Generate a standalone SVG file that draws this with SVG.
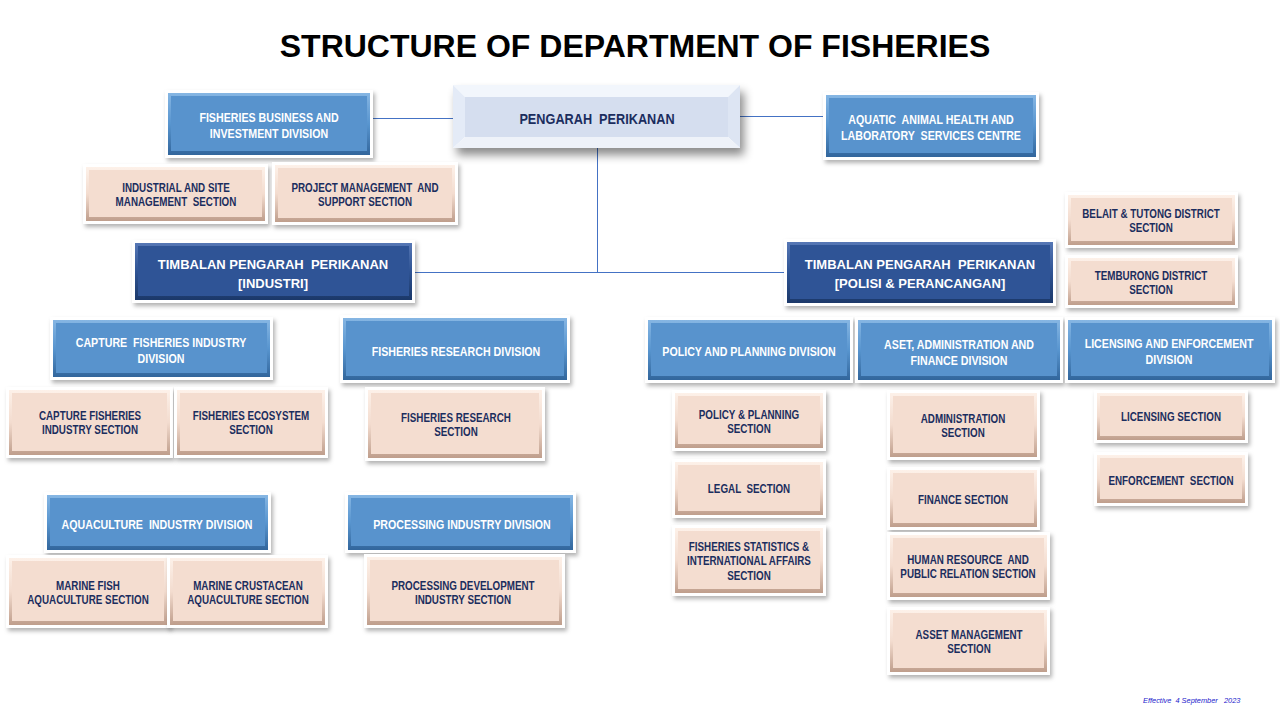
<svg xmlns="http://www.w3.org/2000/svg" width="1280" height="720" viewBox="0 0 1280 720">
<defs>
<filter id="sh" x="-10%" y="-20%" width="125%" height="150%">
<feDropShadow dx="2" dy="3" stdDeviation="2" flood-color="#000" flood-opacity="0.3"/>
</filter>
<filter id="shBig" x="-10%" y="-30%" width="125%" height="170%">
<feDropShadow dx="4" dy="7" stdDeviation="5" flood-color="#000" flood-opacity="0.45"/>
</filter>
<linearGradient id="gBlue" x1="0" y1="0" x2="0" y2="1">
<stop offset="0" stop-color="#86b6e3"/><stop offset="0.5" stop-color="#5895cf"/><stop offset="1" stop-color="#32669c"/>
</linearGradient>
<linearGradient id="gDark" x1="0" y1="0" x2="0" y2="1">
<stop offset="0" stop-color="#5677b5"/><stop offset="0.5" stop-color="#2e5393"/><stop offset="1" stop-color="#1b3869"/>
</linearGradient>
<linearGradient id="gPeach" x1="0" y1="0" x2="0" y2="1">
<stop offset="0" stop-color="#fdf1e9"/><stop offset="0.5" stop-color="#f3dccf"/><stop offset="1" stop-color="#bf9e8c"/>
</linearGradient>
</defs>
<style>
.fr{fill:#fff;filter:url(#sh)}
.eb{fill:url(#gBlue)}.fb{fill:#5893cd}
.ed{fill:url(#gDark)}.fd{fill:#2f5496}
.ep{fill:url(#gPeach)}.fp{fill:#f4ddd0}
text{text-anchor:middle;font-weight:bold;white-space:pre}
.tw,.tp,.tn{font-family:"Liberation Sans","Arial",sans-serif;transform-box:fill-box;transform-origin:center;transform:scaleX(0.82)}
.tw{fill:#fff;font-size:13px}
.tp{fill:#1b2d5e;font-size:12px}
.tn{fill:#1b2d5e;font-size:15.5px}
.td{fill:#fff;font-family:"Liberation Sans","Arial",sans-serif;font-size:13px}
.conn line{stroke:#4472c4;stroke-width:1}
</style>
<rect width="1280" height="720" fill="#fff"/>
<text x="635" y="57" style="font-family:'Liberation Sans',Arial,sans-serif;font-size:32px;fill:#000">STRUCTURE OF DEPARTMENT OF FISHERIES</text>

<g id="connectors" class="conn">
<line x1="373" y1="118.5" x2="455" y2="118.5"/>
<line x1="739" y1="116.5" x2="823" y2="116.5"/>
<line x1="597.5" y1="147" x2="597.5" y2="272"/>
<line x1="415" y1="272.5" x2="787" y2="272.5"/>
</g>

<g id="pengarah">
<rect x="453" y="85" width="287" height="63" fill="#fff" filter="url(#shBig)"/>
<polygon points="453,85 740,85 728,97 465,97" fill="#f2f6fc"/>
<polygon points="453,85 465,97 465,137 453,148" fill="#e4ebf7"/>
<polygon points="740,85 740,148 728,137 728,97" fill="#dde5f3"/>
<polygon points="453,148 465,137 728,137 740,148" fill="#eef2f9"/>
<rect x="465" y="97" width="263" height="40" fill="#d5deef"/>
<text class="tn" x="597" y="124">PENGARAH  PERIKANAN</text>
</g>

<g id="fbi"><rect class="fr" x="165" y="90" width="208" height="68"/><rect class="eb" x="168" y="93" width="202" height="62"/><rect class="fb" x="171" y="96" width="196" height="55"/>
<text class="tw" x="269" y="122">FISHERIES BUSINESS AND</text><text class="tw" x="269" y="138">INVESTMENT DIVISION</text></g>

<g id="aquatic"><rect class="fr" x="823" y="92" width="216" height="68"/><rect class="eb" x="826" y="95" width="210" height="62"/><rect class="fb" x="829" y="98" width="204" height="55"/>
<text class="tw" x="931" y="124">AQUATIC  ANIMAL HEALTH AND</text><text class="tw" x="931" y="140">LABORATORY  SERVICES CENTRE</text></g>

<g id="industrial"><rect class="fr" x="83" y="164" width="185" height="60"/><rect class="ep" x="86" y="167" width="179" height="54"/><rect class="fp" x="89" y="170" width="173" height="47"/>
<text class="tp" x="176" y="192">INDUSTRIAL AND SITE</text><text class="tp" x="176" y="206">MANAGEMENT  SECTION</text></g>

<g id="project"><rect class="fr" x="272" y="162" width="186" height="63"/><rect class="ep" x="275" y="165" width="180" height="57"/><rect class="fp" x="278" y="168" width="174" height="50"/>
<text class="tp" x="365" y="192">PROJECT MANAGEMENT  AND</text><text class="tp" x="365" y="206">SUPPORT SECTION</text></g>

<g id="timbalan-industri"><rect class="fr" x="132" y="240" width="283" height="63"/><rect class="ed" x="135" y="243" width="277" height="57"/><rect class="fd" x="138" y="246" width="271" height="50"/>
<text class="td" x="273" y="269">TIMBALAN PENGARAH  PERIKANAN</text><text class="td" x="273" y="288">[INDUSTRI]</text></g>

<g id="timbalan-polisi"><rect class="fr" x="784" y="239" width="272" height="67"/><rect class="ed" x="787" y="242" width="266" height="61"/><rect class="fd" x="790" y="245" width="260" height="54"/>
<text class="td" x="920" y="269">TIMBALAN PENGARAH  PERIKANAN</text><text class="td" x="920" y="288">[POLISI &amp; PERANCANGAN]</text></g>

<g id="belait"><rect class="fr" x="1065" y="192" width="173" height="56"/><rect class="ep" x="1068" y="195" width="167" height="50"/><rect class="fp" x="1071" y="198" width="161" height="43"/>
<text class="tp" x="1151" y="218">BELAIT &amp; TUTONG DISTRICT</text><text class="tp" x="1151" y="232">SECTION</text></g>

<g id="temburong"><rect class="fr" x="1065" y="255" width="173" height="53"/><rect class="ep" x="1068" y="258" width="167" height="47"/><rect class="fp" x="1071" y="261" width="161" height="40"/>
<text class="tp" x="1151" y="280">TEMBURONG DISTRICT</text><text class="tp" x="1151" y="294">SECTION</text></g>

<g id="capture-div"><rect class="fr" x="50" y="317" width="223" height="63"/><rect class="eb" x="53" y="320" width="217" height="57"/><rect class="fb" x="56" y="323" width="211" height="50"/>
<text class="tw" x="161" y="347">CAPTURE  FISHERIES INDUSTRY</text><text class="tw" x="161" y="363">DIVISION</text></g>

<g id="research-div"><rect class="fr" x="340" y="315" width="230" height="68"/><rect class="eb" x="343" y="318" width="224" height="62"/><rect class="fb" x="346" y="321" width="218" height="55"/>
<text class="tw" x="456" y="356">FISHERIES RESEARCH DIVISION</text></g>

<g id="policy-div"><rect class="fr" x="645" y="317" width="208" height="66"/><rect class="eb" x="648" y="320" width="202" height="60"/><rect class="fb" x="651" y="323" width="196" height="53"/>
<text class="tw" x="749" y="356">POLICY AND PLANNING DIVISION</text></g>

<g id="aset-div"><rect class="fr" x="855" y="317" width="208" height="66"/><rect class="eb" x="858" y="320" width="202" height="60"/><rect class="fb" x="861" y="323" width="196" height="53"/>
<text class="tw" x="959" y="349">ASET, ADMINISTRATION AND</text><text class="tw" x="959" y="365">FINANCE DIVISION</text></g>

<g id="licensing-div"><rect class="fr" x="1065" y="317" width="210" height="66"/><rect class="eb" x="1068" y="320" width="204" height="60"/><rect class="fb" x="1071" y="323" width="198" height="53"/>
<text class="tw" x="1169" y="348">LICENSING AND ENFORCEMENT</text><text class="tw" x="1169" y="364">DIVISION</text></g>

<g id="capture-sec"><rect class="fr" x="6" y="387" width="167" height="71"/><rect class="ep" x="9" y="390" width="161" height="65"/><rect class="fp" x="12" y="393" width="155" height="58"/>
<text class="tp" x="90" y="420">CAPTURE FISHERIES</text><text class="tp" x="90" y="434">INDUSTRY SECTION</text></g>

<g id="ecosystem"><rect class="fr" x="174" y="387" width="154" height="71"/><rect class="ep" x="177" y="390" width="148" height="65"/><rect class="fp" x="180" y="393" width="142" height="58"/>
<text class="tp" x="251" y="420">FISHERIES ECOSYSTEM</text><text class="tp" x="251" y="434">SECTION</text></g>

<g id="research-sec"><rect class="fr" x="365" y="387" width="180" height="74"/><rect class="ep" x="368" y="390" width="174" height="68"/><rect class="fp" x="371" y="393" width="168" height="61"/>
<text class="tp" x="456" y="422">FISHERIES RESEARCH</text><text class="tp" x="456" y="436">SECTION</text></g>

<g id="pp-sec"><rect class="fr" x="672" y="390" width="154" height="61"/><rect class="ep" x="675" y="393" width="148" height="55"/><rect class="fp" x="678" y="396" width="142" height="48"/>
<text class="tp" x="749" y="419">POLICY &amp; PLANNING</text><text class="tp" x="749" y="433">SECTION</text></g>

<g id="legal"><rect class="fr" x="672" y="459" width="154" height="59"/><rect class="ep" x="675" y="462" width="148" height="53"/><rect class="fp" x="678" y="465" width="142" height="46"/>
<text class="tp" x="749" y="493">LEGAL  SECTION</text></g>

<g id="stats"><rect class="fr" x="672" y="525" width="154" height="71"/><rect class="ep" x="675" y="528" width="148" height="65"/><rect class="fp" x="678" y="531" width="142" height="58"/>
<text class="tp" x="749" y="551">FISHERIES STATISTICS &amp;</text><text class="tp" x="749" y="565">INTERNATIONAL AFFAIRS</text><text class="tp" x="749" y="580">SECTION</text></g>

<g id="admin"><rect class="fr" x="887" y="390" width="153" height="70"/><rect class="ep" x="890" y="393" width="147" height="64"/><rect class="fp" x="893" y="396" width="141" height="57"/>
<text class="tp" x="963" y="423">ADMINISTRATION</text><text class="tp" x="963" y="437">SECTION</text></g>

<g id="finance"><rect class="fr" x="887" y="467" width="153" height="63"/><rect class="ep" x="890" y="470" width="147" height="57"/><rect class="fp" x="893" y="473" width="141" height="50"/>
<text class="tp" x="963" y="504">FINANCE SECTION</text></g>

<g id="hr"><rect class="fr" x="887" y="532" width="163" height="68"/><rect class="ep" x="890" y="535" width="157" height="62"/><rect class="fp" x="893" y="538" width="151" height="55"/>
<text class="tp" x="968" y="564">HUMAN RESOURCE  AND</text><text class="tp" x="968" y="578">PUBLIC RELATION SECTION</text></g>

<g id="asset"><rect class="fr" x="887" y="607" width="163" height="68"/><rect class="ep" x="890" y="610" width="157" height="62"/><rect class="fp" x="893" y="613" width="151" height="55"/>
<text class="tp" x="969" y="639">ASSET MANAGEMENT</text><text class="tp" x="969" y="653">SECTION</text></g>

<g id="licensing-sec"><rect class="fr" x="1094" y="390" width="154" height="53"/><rect class="ep" x="1097" y="393" width="148" height="47"/><rect class="fp" x="1100" y="396" width="142" height="40"/>
<text class="tp" x="1171" y="421">LICENSING SECTION</text></g>

<g id="enforcement"><rect class="fr" x="1094" y="452" width="154" height="54"/><rect class="ep" x="1097" y="455" width="148" height="48"/><rect class="fp" x="1100" y="458" width="142" height="41"/>
<text class="tp" x="1171" y="485">ENFORCEMENT  SECTION</text></g>

<g id="aqua-div"><rect class="fr" x="44" y="492" width="227" height="61"/><rect class="eb" x="47" y="495" width="221" height="55"/><rect class="fb" x="50" y="498" width="215" height="48"/>
<text class="tw" x="157" y="529">AQUACULTURE  INDUSTRY DIVISION</text></g>

<g id="processing-div"><rect class="fr" x="345" y="492" width="231" height="61"/><rect class="eb" x="348" y="495" width="225" height="55"/><rect class="fb" x="351" y="498" width="219" height="48"/>
<text class="tw" x="462" y="529">PROCESSING INDUSTRY DIVISION</text></g>

<g id="marine-fish"><rect class="fr" x="6" y="555" width="164" height="73"/><rect class="ep" x="9" y="558" width="158" height="67"/><rect class="fp" x="12" y="561" width="152" height="60"/>
<text class="tp" x="88" y="590">MARINE FISH</text><text class="tp" x="88" y="604">AQUACULTURE SECTION</text></g>

<g id="marine-crust"><rect class="fr" x="167" y="555" width="161" height="73"/><rect class="ep" x="170" y="558" width="155" height="67"/><rect class="fp" x="173" y="561" width="149" height="60"/>
<text class="tp" x="248" y="590">MARINE CRUSTACEAN</text><text class="tp" x="248" y="604">AQUACULTURE SECTION</text></g>

<g id="proc-dev"><rect class="fr" x="364" y="554" width="201" height="74"/><rect class="ep" x="367" y="557" width="195" height="68"/><rect class="fp" x="370" y="560" width="189" height="61"/>
<text class="tp" x="463" y="590">PROCESSING DEVELOPMENT</text><text class="tp" x="463" y="604">INDUSTRY SECTION</text></g>

<text x="1143" y="703" style="text-anchor:start;font-weight:normal;font-style:italic;font-family:'Liberation Sans',Arial,sans-serif;font-size:7.4px;fill:#1a1acc">Effective  4 September   2023</text>
</svg>
